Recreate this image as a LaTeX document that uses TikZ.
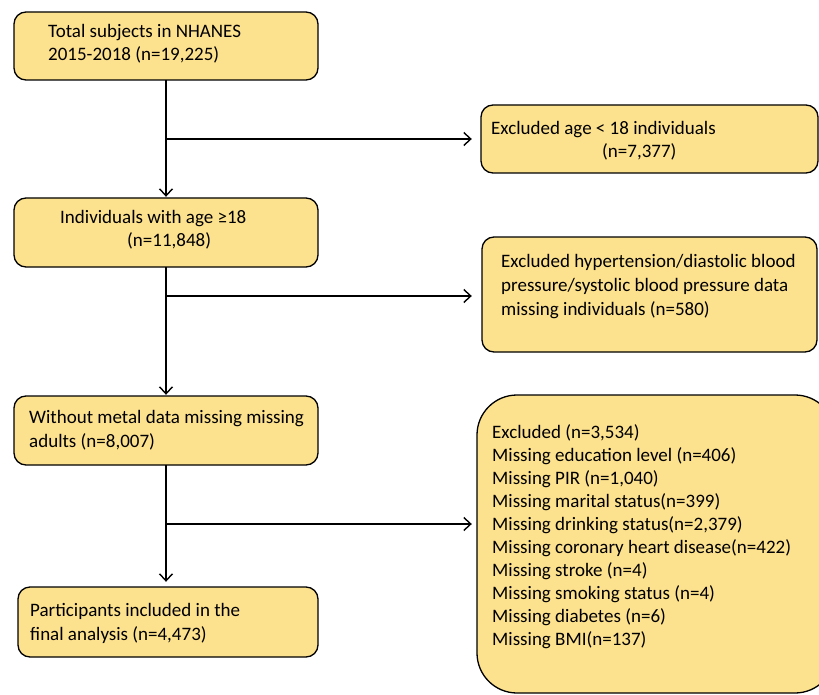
\documentclass[tikz,border=0pt]{standalone}
\usepackage{fontspec}
\setmainfont{Carlito}
\usetikzlibrary{arrows.meta}
\definecolor{boxfill}{RGB}{252,225,142}
\tikzset{
  box/.style={draw=black, line width=1.3pt, fill=boxfill, rounded corners=12pt, inner sep=0pt},
  txt/.style={anchor=base west, align=left, inner sep=0pt, font=\fontsize{19}{23.5}\selectfont},
  conn/.style={line width=1.4pt, -{Straight Barb[length=7pt,width=13pt,line width=1.4pt]}},
}
\begin{document}
\begin{tikzpicture}[x=1pt,y=-1pt]
\useasboundingbox (0,0) rectangle (819,695);
\begin{scope}
\clip (0,0) rectangle (819,695);
% boxes
\draw[box] (14,12) rectangle (318,80);
\node[inner sep=0pt, minimum width=304pt, minimum height=68pt] (b1) at (166,46) {};
\draw[box] (481,105) rectangle (818,173);
\node[inner sep=0pt, minimum width=337pt, minimum height=68pt] (b2) at (649.5,139) {};
\draw[box] (14,198) rectangle (318,267);
\node[inner sep=0pt, minimum width=304pt, minimum height=69pt] (b3) at (166,232.5) {};
\draw[box] (482,237) rectangle (817,352);
\node[inner sep=0pt, minimum width=335pt, minimum height=115pt] (b4) at (649.5,294.5) {};
\draw[box] (14,396) rectangle (318,465);
\node[inner sep=0pt, minimum width=304pt, minimum height=69pt] (b5) at (166,430.5) {};
\draw[box, rounded corners=40pt] (477,395) rectangle (835,693);
\node[inner sep=0pt, minimum width=358pt, minimum height=298pt] (b6) at (656,544) {};
\draw[box] (18,587) rectangle (318,657);
\node[inner sep=0pt, minimum width=300pt, minimum height=70pt] (b7) at (168,622) {};
\end{scope}
% texts (anchored at the baseline of the last line)
\node[txt] (t1) at (48,61) {Total subjects in NHANES\\2015-2018 (n=19,225)};
\node[txt] (t2) at (491,158) {Excluded age < 18 individuals\\\hspace*{111pt}(n=7,377)};
\node[txt] (t3) at (60,247) {Individuals with age ≥18\\\hspace*{67pt}(n=11,848)};
\node[txt, font=\fontsize{19}{24}\selectfont] (t4) at (501,315) {Excluded hypertension/diastolic blood\\pressure/systolic blood pressure data\\missing individuals (n=580)};
\node[txt] (t5) at (29,447) {Without metal data missing missing\\adults (n=8,007)};
\node[txt, font=\fontsize{19}{23}\selectfont] (t6) at (492,645) {Excluded (n=3,534)\\Missing education level (n=406)\\Missing PIR (n=1,040)\\Missing marital status(n=399)\\Missing drinking status(n=2,379)\\Missing coronary heart disease(n=422)\\Missing stroke (n=4)\\Missing smoking status (n=4)\\Missing diabetes (n=6)\\Missing BMI(n=137)};
\node[txt] (t7) at (30,640) {Participants included in the\\final analysis (n=4,473)};
% connectors
\coordinate (j1) at (166,139);
\coordinate (j2) at (166,296);
\coordinate (j3) at (166,524);
\draw[conn, shorten >=1pt] (b1) -- (b3);
\draw[conn, shorten >=9pt] (j1) -- (j1 -| b2.west);
\draw[conn, shorten >=1pt] (b3) -- (b5);
\draw[conn, shorten >=10pt] (j2) -- (j2 -| b4.west);
\draw[conn, shorten >=5pt] (b5.south) -- (b5.south |- b7.north);
\draw[conn, shorten >=5pt] (j3) -- (j3 -| b6.west);
\end{tikzpicture}
\end{document}
